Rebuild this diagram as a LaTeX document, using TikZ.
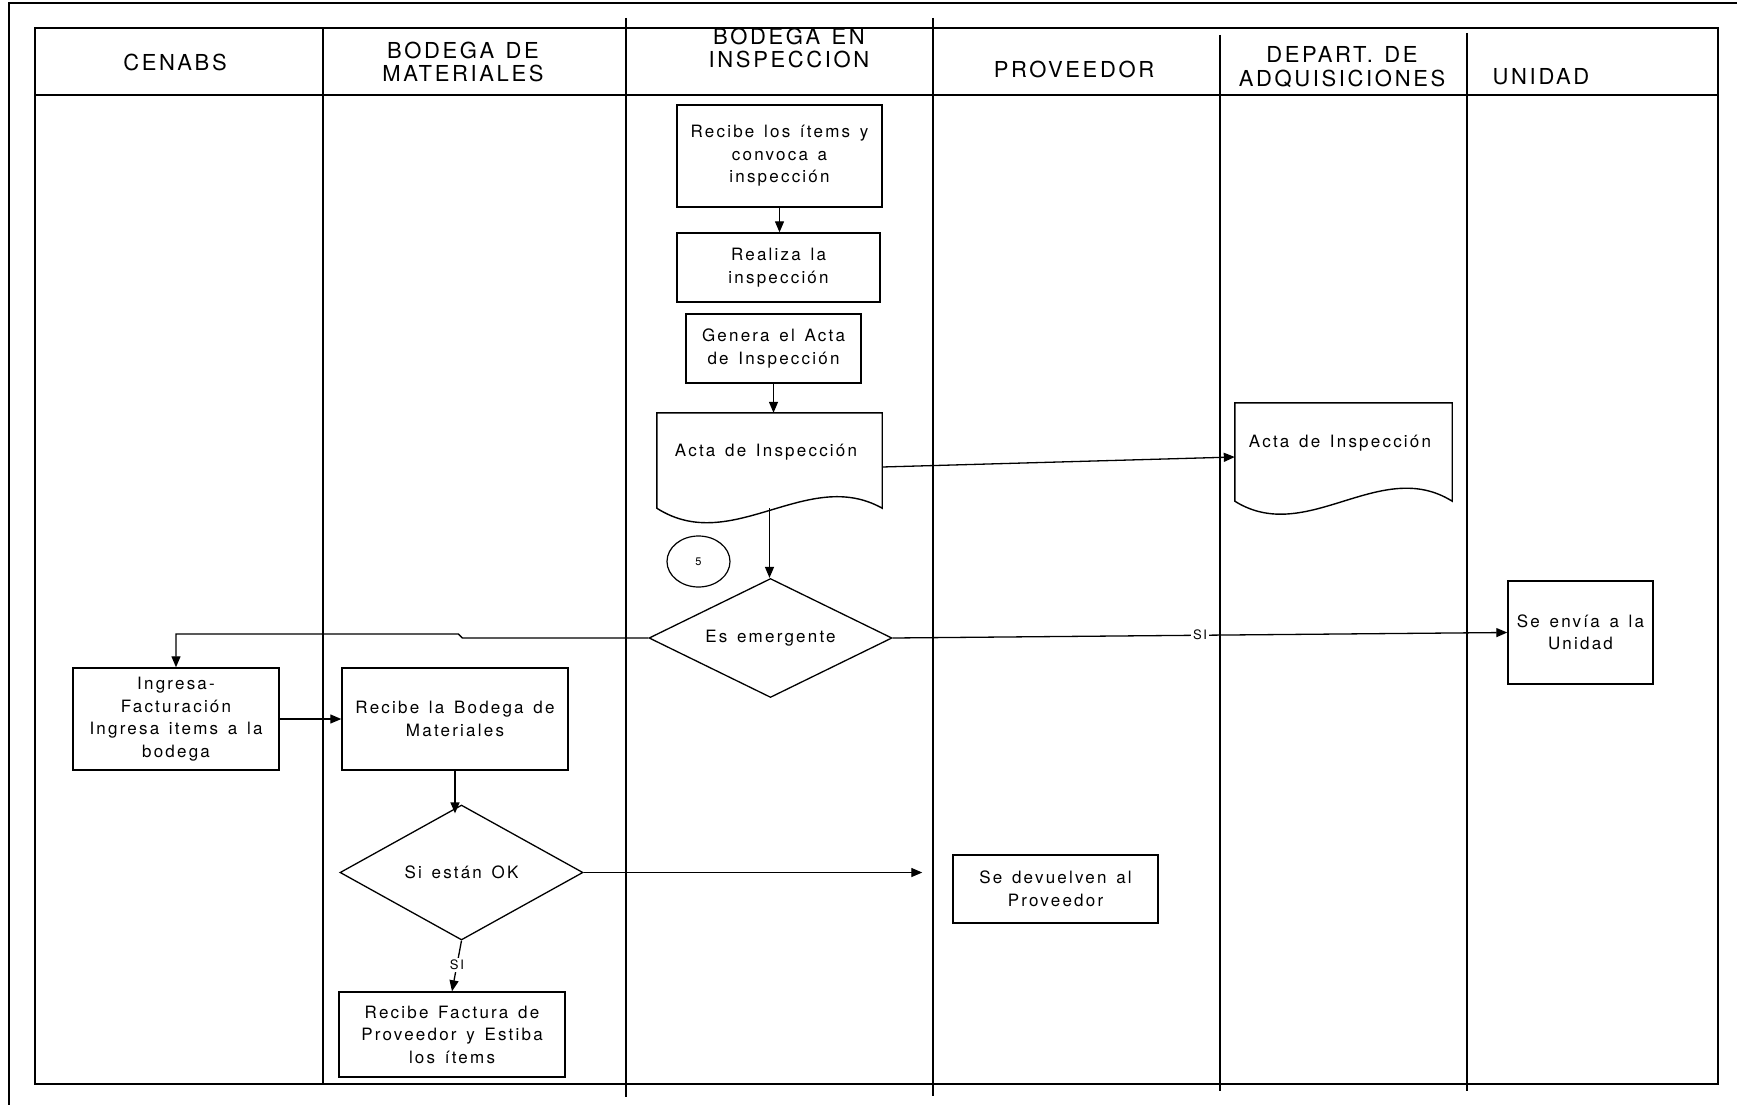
\documentclass[tikz,border=0pt]{standalone}
\usepackage{fontspec}
\setmainfont{TeX Gyre Heros}
\newfontfamily\hdrfamily[LetterSpace=12,WordSpace=1.3]{TeX Gyre Heros}
\newfontfamily\txtfamily[LetterSpace=13,WordSpace=1.4]{TeX Gyre Heros}
\usetikzlibrary{shapes.geometric,arrows.meta,calc}
\newcommand\hdrf{\hdrfamily\fontsize{22}{23.5}\selectfont}
\newcommand\txtf{\txtfamily\fontsize{17}{22.5}\selectfont}
\newcommand\lblf{\txtfamily\fontsize{13}{15}\selectfont}
\newcommand\numf{\txtfamily\fontsize{11}{13}\selectfont}
\begin{document}
\begin{tikzpicture}[x=1pt,y=-1pt,
  frameline/.style={line width=2pt},
  lane/.style={line width=2.4pt},
  box/.style={draw, rectangle, line width=1.4pt, align=center, inner sep=0pt, font=\txtf},
  dia/.style={draw, diamond, shape aspect=2, line width=1.3pt, align=center, inner sep=0pt, font=\txtf},
  docbox/.style={rectangle, inner sep=0pt},
  docline/.style={line width=1.4pt, line join=miter},
  doctext/.style={inner sep=0pt, font=\txtf},
  circ/.style={draw, ellipse, line width=1.2pt, inner sep=0pt, font=\numf},
  arr/.style={line width=1.3pt, -{Triangle[length=11pt,width=9pt]}},
  hdr/.style={align=center, inner sep=0pt, font=\hdrf},
  lbl/.style={fill=white, inner sep=2pt, font=\lblf}
]
\useasboundingbox (0,0) rectangle (1737,1105);
\fill[white] (0,0) rectangle (1737,1105);

% outer frame
\draw[frameline] (9,1105) -- (9,3) -- (1737,3);

% swimlane table
\draw[lane] (35,28) rectangle (1718,1084);
\draw[lane] (35,95) -- (1718,95);
\draw[lane] (323,28) -- (323,1084);
\draw[lane] (626,18) -- (626,1097);
\draw[lane] (933,18) -- (933,1096);
\draw[lane] (1220,35) -- (1220,1091);
\draw[lane] (1467,33) -- (1467,1091);

% headers
\node[hdr] (h1) at (175,62) {CENABS};
\node[hdr] (h2) at (463,62) {BODEGA DE\\MATERIALES};
\node[hdr] (h3) at (789,48) {BODEGA EN\\INSPECCION};
\node[hdr] (h4) at (1074,69) {PROVEEDOR};
\node[hdr] (h5) at (1342,67) {DEPART. DE\\ADQUISICIONES};
\node[hdr] (h6) at (1541,77) {UNIDAD};

% BODEGA EN INSPECCION lane
\node[box, minimum width=205pt, minimum height=102pt] (b1) at (779.5,156) {Recibe los ítems y\\convoca a\\inspección};
\node[box, minimum width=203pt, minimum height=69pt] (b2) at (778.5,267.5) {Realiza la\\inspección};
\node[box, minimum width=175pt, minimum height=69pt] (b3) at (773.5,348.5) {Genera el Acta\\de Inspección};

\node[docbox, minimum width=225pt, minimum height=95pt] (d4) at (769.5,460.5) {};
\draw[docline] (d4.south east) -- (d4.north east) -- (d4.north west) -- (d4.south west)
  .. controls ($(d4.south west)+(75,48)$) and ($(d4.south east)+(-75,-42)$) .. (d4.south east) -- cycle;
\node[doctext] (d4t) at (766,452) {Acta de Inspección};

\node[circ, minimum width=63pt, minimum height=51pt] (c5) at (698.5,561.5) {5};

\node[dia, minimum width=243pt, minimum height=119pt] (d6) at (770.5,638) {Es emergente};

% DEPART. DE ADQUISICIONES lane
\node[docbox, minimum width=217pt, minimum height=98pt] (d7) at (1343.5,452) {};
\draw[docline] (d7.south east) -- (d7.north east) -- (d7.north west) -- (d7.south west)
  .. controls ($(d7.south west)+(72,45)$) and ($(d7.south east)+(-72,-45)$) .. (d7.south east) -- cycle;
\node[doctext] (d7t) at (1340,443) {Acta de Inspección};

% UNIDAD lane
\node[box, minimum width=145pt, minimum height=103pt] (b8) at (1580.5,632.5) {Se envía a la\\Unidad};

% CENABS lane
\node[box, minimum width=206pt, minimum height=102pt] (b9) at (176,719) {Ingresa-\\Facturación\\Ingresa items a la\\bodega};

% BODEGA DE MATERIALES lane
\node[box, minimum width=226pt, minimum height=102pt] (b10) at (455,719) {Recibe la Bodega de\\Materiales};
\node[dia, minimum width=243pt, minimum height=135pt] (d11) at (461.5,872.5) {Si están OK};
\node[box, minimum width=226pt, minimum height=85pt] (b13) at (452,1034.5) {Recibe Factura de\\Proveedor y Estiba\\los ítems};

% PROVEEDOR lane
\node[box, minimum width=205pt, minimum height=68pt] (b12) at (1055.5,889) {Se devuelven al\\Proveedor};

% connectors
\draw[arr] (b1.south) -- (b1.south |- b2.north);
\draw[arr] (b3.south) -- (b3.south |- d4.north);
\draw[arr] (d4.south) -- (d4.south |- d6.north);
\draw[arr] ($(d4.east)+(0,6.5)$) -- ($(d7.west)+(0,5)$);
\draw[arr] (d6.east) -- node[lbl, pos=0.5] {SI} (b8.west);
\draw[arr] (d6.west) -- ++(-186,0) -- ++(-4,-4) -| (b9.north);
\draw[arr] (b9.east) -- (b10.west);
\draw[arr, shorten >=-9pt] (b10.south) -- (b10.south |- d11.north);
\draw[arr, shorten >=30pt] (d11.east) -- (d11.east -| b12.west);
\draw[arr] (d11.south) -- node[lbl, pos=0.48] {SI} (b13.north);
\end{tikzpicture}
\end{document}
